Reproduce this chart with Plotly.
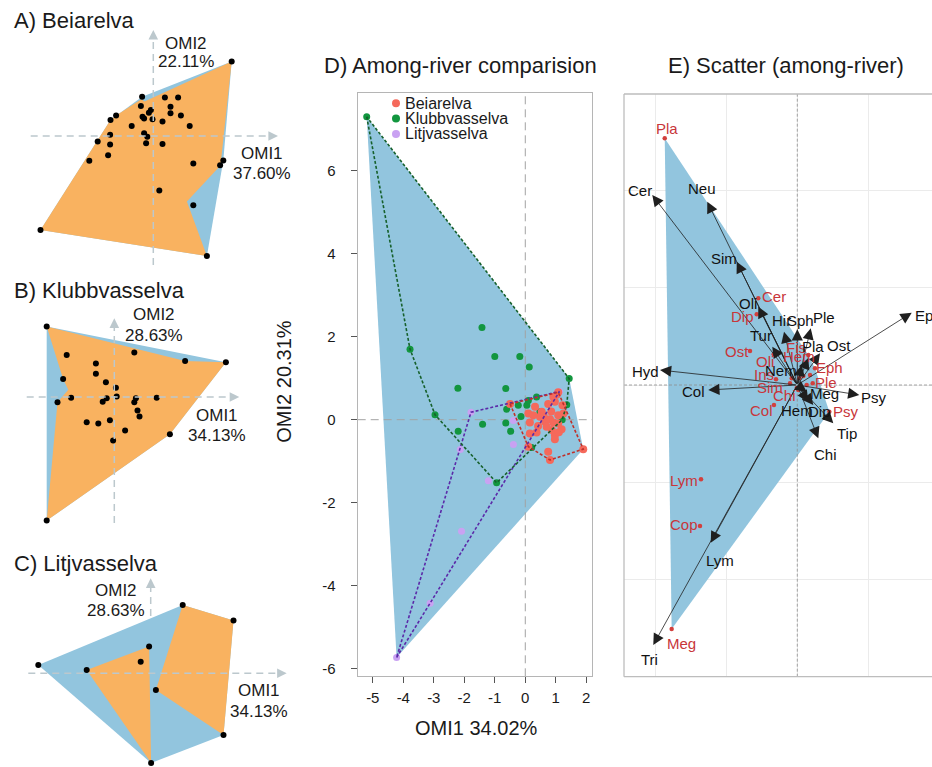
import plotly.graph_objects as go

W, H = 932, 767
FONT = "Liberation Sans, Arial, Helvetica, sans-serif"
BLUE = "#92C5DE"
ORANGE = "#F9B260"
ARROW_GREY = "#BCC8CD"
TXT = "#1a1a1a"

# ======================= DATA =======================
# A) Beiarelva - within-river OMI site scores
a_omi1 = [1.96, -0.28, 0.29, 0.62, -0.31, -0.06, -0.11, 0.43, 0.43, 0.69, -0.93, -1.07,
          -0.27, -0.23, -0.02, 0.23, -0.54, 0.91, -1.08, -0.23, -0.15, -1.39, -1.08,
          -0.18, 0.23, -1.13, -1.60, 1.00, 1.75, 1.67, 0.15, 1.00, -2.82, 1.34]
a_omi2 = [1.86, 0.98, 0.96, 0.96, 0.75, 0.65, 0.58, 0.73, 0.57, 0.51, 0.51, 0.40,
          0.48, 0.44, 0.42, 0.36, 0.25, 0.25, 0.03, 0.07, -0.02, -0.14, -0.21,
          -0.18, -0.20, -0.48, -0.62, -0.69, -0.61, -0.73, -1.36, -1.73, -2.35, -3.00]
a_sub_omi1 = [-2.82, -1.07, -0.93, -0.30, -0.22, 1.96, 1.68, 0.84, 1.34]
a_sub_omi2 = [-2.35, 0.40, 0.51, 0.92, 0.86, 1.86, -0.74, -1.64, -3.00]
a_inertia = ["37.60%", "22.11%"]

# B) Klubbvasselva
b_omi1 = [-1.69, 2.79, 1.77, 0.50, -1.19, -0.46, -0.46, -1.28, -0.21, 0.04, -1.08, -1.42,
          -0.19, -0.29, 0.06, 0.54, 0.50, 1.06, 0.58, 0.63, -0.69, -0.40, -0.11, 0.27,
          -0.03, 1.39, -1.69]
b_omi2 = [1.76, 0.87, 0.90, 1.11, 1.05, 0.84, 0.58, 0.45, 0.37, 0.23, -0.02, -0.13,
          -0.03, -0.12, 0.01, -0.03, -0.13, -0.02, -0.34, -0.49, -0.63, -0.66, -0.58, -0.84,
          -1.09, -0.93, -3.09]
b_sub_omi1 = [-1.69, 1.77, 2.79, 1.39, -1.69, -1.42, -1.15, -1.28]
b_sub_omi2 = [1.76, 0.90, 0.87, -0.93, -3.09, -0.13, 0.18, 0.45]
b_inertia = ["34.13%", "28.63%"]

# C) Litjvasselva
c_omi1 = [-2.81, -1.60, -0.04, -0.25, 0.80, 2.07, 0.13, 1.82, 0.01]
c_omi2 = [0.21, 0.08, 0.67, 0.29, 1.71, 1.32, -0.42, -1.54, -2.24]
c_sub1_omi1 = [-1.60, -0.04, 0.01]
c_sub1_omi2 = [0.08, 0.67, -2.24]
c_sub2_omi1 = [0.80, 2.07, 1.82, 0.13]
c_sub2_omi2 = [1.71, 1.32, -1.54, -0.42]
c_inertia = ["34.13%", "28.63%"]

# D) Among-river comparison
d_rivers = ["Beiarelva", "Klubbvasselva", "Litjvasselva"]
d_bei_x = [-0.50, 0.10, 0.32, 0.75, 0.92, 1.03, 0.97, 0.54, 0.48, 0.15, 0.65, 0.81, 0.92,
           1.08, 1.19, 0.87, 0.97, 0.97, 0.15, 0.37, 0.26, 1.25, 0.70, 0.75, 0.81, 1.90,
           0.10, 1.08, 1.08, 1.22, 1.10, 0.60, 0.42, 0.85]
d_bei_y = [0.38, 0.15, 0.31, 0.38, 0.55, 0.60, 0.43, 0.19, 0.07, -0.07, -0.05, 0.01, -0.07,
           -0.09, -0.23, -0.25, -0.37, -0.47, -0.33, -0.31, 0.11, 0.15, -0.17, -0.77, -0.97, -0.71,
           -0.65, 0.11, 0.66, 0.35, -0.30, 0.10, -0.15, 0.20]
d_klu_x = [-5.20, -3.78, -2.96, -2.21, -1.42, -1.00, -0.18, 0.13, -0.64, 1.44, -2.20, -1.40,
           -0.64, -0.48, -0.61, -0.23, 0.05, 0.10, 0.37, -0.14, 0.50, 1.36, 1.21, 0.21, -0.94,
           0.65, 0.48]
d_klu_y = [7.30, 1.70, 0.12, 0.76, 2.22, 1.52, 1.52, 1.27, 0.75, 0.99, -0.28, -0.11,
           -0.08, -0.28, 0.25, 0.35, 0.35, 0.46, 0.55, 0.08, 0.18, 0.36, 0.00, -0.67, -1.52,
           0.02, 0.19]
d_lit_x = [-4.22, -3.12, -2.09, -1.21, -2.13, -1.78, -0.39, -0.39, 1.12]
d_lit_y = [-5.73, -4.42, -2.69, -1.47, -0.72, 0.18, -0.60, -0.02, 0.68]
d_xticks = [-5, -4, -3, -2, -1, 0, 1, 2]
d_yticks = [-6, -4, -2, 0, 2, 4, 6]
d_xtitle = "OMI1 34.02%"
d_ytitle = "OMI2 20.31%"

# E) Scatter (among-river): taxa niche positions (red) and variable arrows (black)
e_taxa = ["Pla", "Cer", "Dip", "Ost", "Oli", "Ins", "Sim", "Chi", "Col", "Fis", "Hem",
          "Eph", "Ple", "Psy", "Lym", "Cop", "Meg", "Tur", "Nem", "Neu", "Hir", "Sph", "Tip"]
e_taxa_x = [-1.875, -0.552, -0.574, -0.669, -0.334, -0.301, -0.103, -0.008, -0.330, 0.156,
            0.119, 0.250, 0.218, 0.453, -1.362, -1.376, -1.777, -0.079, 0.085, 0.180, 0.028,
            0.014, 0.133]
e_taxa_y = [2.535, 0.891, 0.727, 0.349, 0.316, 0.059, 0.017, -0.031, -0.206, 0.308,
            0.216, 0.172, 0.017, -0.274, -0.969, -1.449, -2.508, 0.069, 0.092, 0.103, 0.069,
            -0.051, 0.000]
e_taxa_shown = 17  # first 17 taxa carry visible labels

e_vars = ["Cer", "Neu", "Sim", "Oli", "Hir", "Sph", "Ple", "Tur", "Pla", "Ost", "Eph",
          "Hyd", "Col", "Nem", "Psy", "Meg", "Hem", "Dip", "Tip", "Chi", "Lym", "Tri"]
e_vars_x = [-2.051, -1.273, -0.857, -0.552, -0.188, 0.000, 0.190, -0.354, 0.156, 0.321,
            1.618, -1.942, -1.259, 0.062, 0.877, 0.133, 0.156, 0.226, 0.509, 0.297,
            -1.225, -2.037]
e_vars_y = [1.953, 1.884, 1.267, 0.805, 0.548, 0.572, 0.583, 0.394, 0.277, 0.326,
            0.743, 0.154, -0.051, 0.206, -0.103, -0.069, -0.172, -0.206, -0.394, -0.548,
            -1.621, -2.672]

# ---------------- label offsets (style, pixels) ----------------
e_taxa_off = [(2, -10), (16, -2), (-14, 2), (-13, 0), (-9, 7), (-12, -5), (-20, 4),
              (-12, 7), (-12, 5), (-12, -8), (-7, -7), (15, -1), (13, -1), (17, 0),
              (-17, 1), (-16, -1), (10, 14)]
e_vars_off = [(-12, -4), (-5, -13), (-13, -3), (-10, -3), (-3, -11), (3, -9), (13, -11),
              (-11, -11), (5, -12), (19, -8), (17, 3), (-14, 1), (-15, 2), (-21, 6),
              (15, 2), (18, 2), (-11, 9), (6, 6), (14, 10), (7, 16), (9, 18), (-4, 15)]


def fx(xp):
    return xp / W


def fy(yp):
    return 1 - yp / H


def hull(xs, ys):
    pts = sorted(set(zip(xs, ys)))

    def cross(o, a, b):
        return (a[0] - o[0]) * (b[1] - o[1]) - (a[1] - o[1]) * (b[0] - o[0])
    lower, upper = [], []
    for p in pts:
        while len(lower) >= 2 and cross(lower[-2], lower[-1], p) <= 0:
            lower.pop()
        lower.append(p)
    for p in reversed(pts):
        while len(upper) >= 2 and cross(upper[-2], upper[-1], p) <= 0:
            upper.pop()
        upper.append(p)
    h = lower[:-1] + upper[:-1]
    return [p[0] for p in h] + [h[0][0]], [p[1] for p in h] + [h[0][1]]


fig = go.Figure()


def poly(xs, ys, color, xa, ya):
    fig.add_trace(go.Scatter(x=list(xs) + [xs[0]], y=list(ys) + [ys[0]], mode="lines",
                             fill="toself", fillcolor=color, line=dict(width=0),
                             hoverinfo="skip", xaxis=xa, yaxis=ya, showlegend=False))


def ptext(x, y, text, size, xanchor="center", color=TXT, angle=0):
    return dict(x=fx(x), y=fy(y), xref="paper", yref="paper", text=text, showarrow=False,
                xanchor=xanchor, yanchor="middle", textangle=angle,
                font=dict(size=size, color=color))


# ------------- panels A-C -------------
S = 40.0  # px per OMI unit in small panels
small = [
    dict(key="", title="A) Beiarelva", x=a_omi1, y=a_omi2, subs=[(a_sub_omi1, a_sub_omi2)],
         inertia=a_inertia, y0=0, y1=268, ox=153.3, oy=136.0,
         h=(30.7, 278.0), v=(265.0, 30.0), vlayer="above",
         t=(12, 21), o2=(186, 43.3, 61.7), o1=(261.7, 153.7, 173.3)),
    dict(key="2", title="B) Klubbvasselva", x=b_omi1, y=b_omi2, subs=[(b_sub_omi1, b_sub_omi2)],
         inertia=b_inertia, y0=270, y1=528, ox=114.3, oy=397.0,
         h=(26.7, 239.3), v=(523.0, 318.3), vlayer="above",
         t=(12, 290), o2=(154, 314, 335), o1=(217, 415.8, 435.5)),
    dict(key="3", title="C) Litjvasselva", x=c_omi1, y=c_omi2,
         subs=[(c_sub1_omi1, c_sub1_omi2), (c_sub2_omi1, c_sub2_omi2)],
         inertia=c_inertia, y0=530, y1=767, ox=150.7, oy=673.3,
         h=(28.3, 286.7), v=(700.0, 578.3), vlayer="below",
         t=(12, 563), o2=(115.5, 590.8, 610.7), o1=(259, 690.8, 711.7)),
]

layout_axes = {}
shapes = []
annotations = []

for p in small:
    k = p["key"]
    xa, ya = "x" + k, "y" + k
    hx, hy = hull(p["x"], p["y"])
    poly(hx[:-1], hy[:-1], BLUE, xa, ya)
    for sx, sy in p["subs"]:
        poly(sx, sy, ORANGE, xa, ya)
    fig.add_trace(go.Scatter(x=p["x"], y=p["y"], mode="markers",
                             marker=dict(size=6, color="black"), hoverinfo="skip",
                             xaxis=xa, yaxis=ya, showlegend=False))
    ox, oy = p["ox"], p["oy"]
    layout_axes["xaxis" + k] = dict(domain=[0, fx(310)], range=[-ox / S, (310 - ox) / S],
                                    anchor=ya, visible=False, fixedrange=True)
    layout_axes["yaxis" + k] = dict(domain=[fy(p["y1"]), fy(p["y0"])],
                                    range=[(oy - p["y1"]) / S, (oy - p["y0"]) / S],
                                    anchor=xa, visible=False, fixedrange=True)
    # dashed axes with arrowheads
    hx0, hx1 = (p["h"][0] - ox) / S, (p["h"][1] - ox) / S
    vy0, vy1 = (oy - p["v"][0]) / S, (oy - p["v"][1]) / S
    dash = dict(color=ARROW_GREY, width=1.5, dash="7px,5px")
    shapes.append(dict(type="line", xref=xa, yref=ya, x0=hx0, x1=hx1 - 0.15, y0=0, y1=0,
                       line=dash, layer="above"))
    shapes.append(dict(type="line", xref=xa, yref=ya, x0=0, x1=0, y0=vy0, y1=vy1 - 0.15,
                       line=dash, layer=p["vlayer"]))
    annotations.append(dict(x=hx1, y=0, ax=hx1 - 0.2, ay=0, xref=xa, yref=ya, axref=xa,
                            ayref=ya, text="", showarrow=True, arrowhead=2, arrowsize=1.6,
                            arrowwidth=1.2, arrowcolor=ARROW_GREY, standoff=0))
    annotations.append(dict(x=0, y=vy1, ax=0, ay=vy1 - 0.2, xref=xa, yref=ya, axref=xa,
                            ayref=ya, text="", showarrow=True, arrowhead=2, arrowsize=1.6,
                            arrowwidth=1.2, arrowcolor=ARROW_GREY, standoff=0))
    # texts
    annotations.append(ptext(p["t"][0], p["t"][1], p["title"], 22, xanchor="left"))
    for (cx, cy1, cy2), lab, pct in [(p["o2"], "OMI2", p["inertia"][1]),
                                     (p["o1"], "OMI1", p["inertia"][0])]:
        annotations.append(ptext(cx, cy1, lab, 17))
        annotations.append(ptext(cx, cy2, pct, 17))

# ------------- panel D -------------
all_x = d_bei_x + d_klu_x + d_lit_x
all_y = d_bei_y + d_klu_y + d_lit_y
hx, hy = hull(all_x, all_y)
poly(hx[:-1], hy[:-1], BLUE, "x4", "y4")
DX = [-5.495, 2.197]
DY = [-6.183, 7.865]
for xs, ys in [([0, 0], DY), (DX, [0, 0])]:
    fig.add_trace(go.Scatter(x=xs, y=ys, mode="lines",
                             line=dict(color="#A3A3A3", width=1, dash="8px,5px"),
                             hoverinfo="skip", xaxis="x4", yaxis="y4", showlegend=False))
d_groups = [
    (d_lit_x, d_lit_y, "#C9A2F2", "#5B2AA8", 7),
    (d_klu_x, d_klu_y, "#12963F", "#16602B", 7),
    (d_bei_x, d_bei_y, "#F5695B", "#C0302A", 8),
]
for xs, ys, col, lcol, sz in d_groups:
    fig.add_trace(go.Scatter(x=xs, y=ys, mode="markers", marker=dict(size=sz, color=col),
                             hoverinfo="skip", xaxis="x4", yaxis="y4", showlegend=False))
for xs, ys, col, lcol, sz in d_groups:
    gx, gy = hull(xs, ys)
    fig.add_trace(go.Scatter(x=gx, y=gy, mode="lines",
                             line=dict(color=lcol, width=1.6, dash="3px,2px"),
                             hoverinfo="skip", xaxis="x4", yaxis="y4", showlegend=False))

tickfont = dict(size=15, color=TXT)
layout_axes["xaxis4"] = dict(domain=[fx(357.7), fx(592.3)], range=DX, anchor="y4",
                             showline=True, mirror=True, linecolor="#B5B5B5", linewidth=1,
                             ticks="outside", ticklen=6, tickcolor="#555",
                             tickvals=d_xticks, ticktext=[str(v) for v in d_xticks],
                             tickfont=tickfont, showgrid=False, zeroline=False,
                             ticklabelstandoff=2, fixedrange=True)
layout_axes["yaxis4"] = dict(domain=[fy(676.3), fy(93.3)], range=DY, anchor="x4",
                             showline=True, mirror=True, linecolor="#B5B5B5", linewidth=1,
                             ticks="outside", ticklen=6, tickcolor="#555",
                             tickvals=d_yticks, ticktext=[str(v) for v in d_yticks],
                             tickfont=tickfont, showgrid=False, zeroline=False,
                             ticklabelstandoff=12, fixedrange=True)
annotations.append(ptext(460, 65, "D) Among-river comparision", 22))
annotations.append(ptext(476.7, 728.3, d_xtitle, 20))
annotations.append(ptext(284, 381.7, d_ytitle, 20, angle=-90))
leg_cols = ["#F5695B", "#12963F", "#C9A2F2"]
for i, (name, col) in enumerate(zip(d_rivers, leg_cols)):
    cy = 103.3 + i * 15.3
    shapes.append(dict(type="circle", xref="paper", yref="paper", x0=fx(392), x1=fx(400),
                       y0=fy(cy + 4), y1=fy(cy - 4), fillcolor=col, line=dict(width=0)))
    annotations.append(ptext(403, cy, name, 16, xanchor="left"))

# ------------- panel E -------------
EX = [-2.451, 1.905]
EY = [-2.998, 2.991]
hx, hy = hull(e_taxa_x, e_taxa_y)
poly(hx[:-1], hy[:-1], BLUE, "x5", "y5")
for xs, ys in [([0, 0], EY), (EX, [0, 0])]:
    fig.add_trace(go.Scatter(x=xs, y=ys, mode="lines",
                             line=dict(color="#8E8E8E", width=0.8, dash="3px,2px"),
                             hoverinfo="skip", xaxis="x5", yaxis="y5", showlegend=False))
fig.add_trace(go.Scatter(x=e_taxa_x, y=e_taxa_y, mode="markers",
                         marker=dict(size=4.5, color="#D2403D"), hoverinfo="skip",
                         xaxis="x5", yaxis="y5", showlegend=False))
layout_axes["xaxis5"] = dict(domain=[fx(624), 1], range=EX, anchor="y5", showgrid=True,
                             gridcolor="#EBEBEB", gridwidth=1, tickvals=[-2, -1, 0, 1],
                             showticklabels=False, ticks="", zeroline=False, showline=False,
                             fixedrange=True)
layout_axes["yaxis5"] = dict(domain=[fy(676.7), fy(94)], range=EY, anchor="x5", showgrid=True,
                             gridcolor="#EBEBEB", gridwidth=1, tickvals=[-2, -1, 0, 1, 2],
                             showticklabels=False, ticks="", zeroline=False, showline=False,
                             fixedrange=True)
frame = dict(color="#BDBDBD", width=1.3)
shapes += [
    dict(type="line", xref="paper", yref="paper", x0=fx(624), x1=fx(624), y0=fy(94), y1=fy(676.7), line=frame),
    dict(type="line", xref="paper", yref="paper", x0=fx(624), x1=1, y0=fy(94), y1=fy(94), line=frame),
    dict(type="line", xref="paper", yref="paper", x0=fx(624), x1=1, y0=fy(676.7), y1=fy(676.7), line=frame),
]
for name, x, y in zip(e_vars, e_vars_x, e_vars_y):
    annotations.append(dict(x=x, y=y, ax=0, ay=0, xref="x5", yref="y5", axref="x5", ayref="y5",
                            text="", showarrow=True, arrowhead=2, arrowsize=2.8, arrowwidth=0.8,
                            arrowcolor="#1f1f1f", standoff=0))
for name, x, y, (dx, dy) in zip(e_taxa[:e_taxa_shown], e_taxa_x, e_taxa_y, e_taxa_off):
    annotations.append(dict(x=x, y=y, xref="x5", yref="y5", text=name, showarrow=False,
                            xanchor="center", yanchor="middle",
                            xshift=dx, yshift=-dy, font=dict(size=15, color="#C8363A")))
for name, x, y, (dx, dy) in zip(e_vars, e_vars_x, e_vars_y, e_vars_off):
    annotations.append(dict(x=x, y=y, xref="x5", yref="y5", text=name, showarrow=False,
                            xanchor="center", yanchor="middle",
                            xshift=dx, yshift=-dy, font=dict(size=15, color="#111")))
annotations.append(ptext(786, 65, "E) Scatter (among-river)", 22))

fig.update_layout(width=W, height=H, autosize=False, margin=dict(l=0, r=0, t=0, b=0),
                  paper_bgcolor="white", plot_bgcolor="rgba(0,0,0,0)", showlegend=False,
                  font=dict(family=FONT, color=TXT), shapes=shapes, annotations=annotations,
                  **layout_axes)
fig.write_html("out.html", config={"displayModeBar": False, "staticPlot": True},
               post_script="document.body.style.margin='0';document.body.style.overflow='hidden';")
